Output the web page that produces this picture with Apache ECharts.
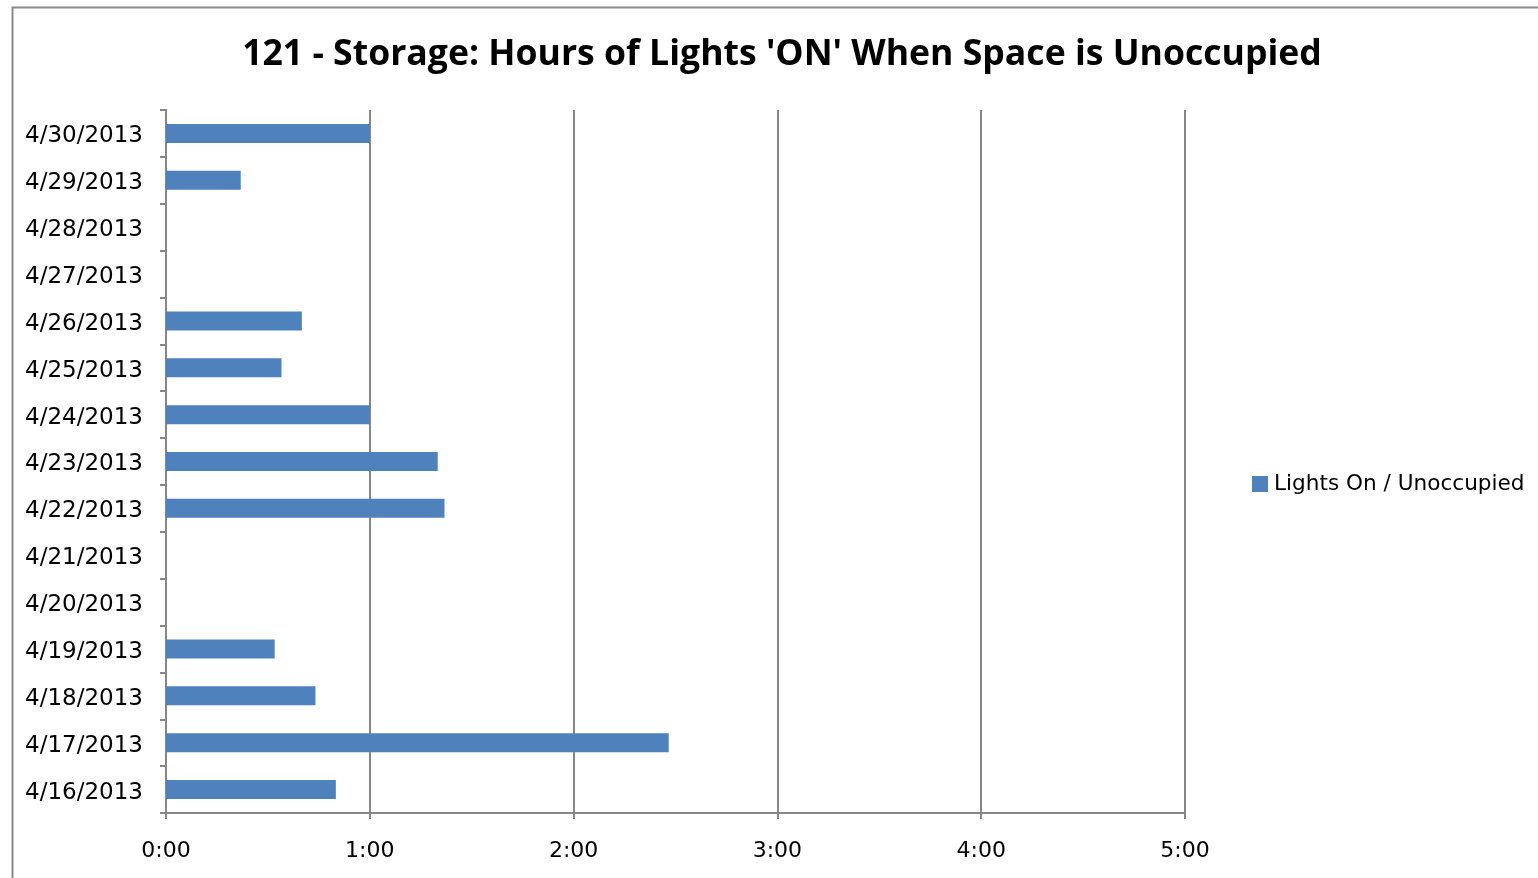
<!DOCTYPE html>
<html>
<head>
<meta charset="utf-8">
<script src="https://cdn.jsdelivr.net/npm/echarts@6/dist/echarts.min.js"></script>
<style>
html,body{margin:0;padding:0;background:#fff;}
#chart{width:1538px;height:878px;}
</style>
</head>
<body>
<div id="chart"></div>
<script>
// Categories (bottom to top in chart)
const categories = ['4/16/2013','4/17/2013','4/18/2013','4/19/2013','4/20/2013','4/21/2013','4/22/2013','4/23/2013','4/24/2013','4/25/2013','4/26/2013','4/27/2013','4/28/2013','4/29/2013','4/30/2013'];
// Minutes of lights on while unoccupied
const minutesOn = [50, 148, 44, 32, 0, 0, 82, 80, 60, 34, 40, 0, 0, 22, 60];
const seriesName = 'Lights On / Unoccupied';
const titleText = "121 - Storage: Hours of Lights 'ON' When Space is Unoccupied";
const xTicks = [0, 60, 120, 180, 240, 300];

const FONT = '"Open Sans", sans-serif';
const LFONT = '"DejaVu Sans", sans-serif';
const GRAY = '#868686';

const chart = echarts.init(document.getElementById('chart'), null, {renderer: 'canvas'});
chart.setOption({
  animation: false,
  backgroundColor: '#fff',
  graphic: [{
    type: 'rect', left: 10, top: 5, z: -1,
    shape: {width: 1600, height: 900},
    style: {fill: 'none', stroke: '#8a8a8a', lineWidth: 2}
  }],
  title: {
    text: titleText,
    left: 777, top: 32, textAlign: 'center',
    textStyle: {fontFamily: FONT, fontWeight: 'bold', fontSize: 35.6, color: '#000'}
  },
  legend: {
    orient: 'vertical', left: 1252, top: 473, padding: 0,
    icon: 'rect', itemWidth: 16, itemHeight: 16, itemGap: 6,
    textStyle: {fontFamily: LFONT, fontSize: 21.6, color: '#000', padding: [0,0,0,1]},
    data: [seriesName]
  },
  grid: {left: 166, right: 353, top: 110, bottom: 65, containLabel: false},
  xAxis: {
    type: 'value', min: xTicks[0], max: xTicks[xTicks.length-1], interval: 60,
    axisLine: {show: true, lineStyle: {color: GRAY, width: 2}},
    axisTick: {show: true, length: 6, lineStyle: {color: GRAY, width: 2}},
    splitLine: {show: true, lineStyle: {color: GRAY, width: 2}},
    axisLabel: {
      margin: 27, fontFamily: LFONT, fontSize: 22, color: '#000',
      formatter: v => Math.floor(v/60) + ':' + String(v%60).padStart(2,'0')
    }
  },
  yAxis: {
    type: 'category', data: categories,
    axisLine: {show: true, lineStyle: {color: GRAY, width: 2}},
    axisTick: {show: true, length: 6, alignWithLabel: false, lineStyle: {color: GRAY, width: 2}},
    axisLabel: {
      margin: 23, color: '#000',
      formatter: v => '{d|' + v + '}',
      rich: {d: {fontFamily: LFONT, fontSize: 23, color: '#000', padding: [6, 0, 0, 0]}}
    },
    splitLine: {show: false}
  },
  series: [{
    name: seriesName, type: 'bar', data: minutesOn,
    barWidth: 19,
    itemStyle: {color: '#4f81bd'}
  }]
});
</script>
</body>
</html>
